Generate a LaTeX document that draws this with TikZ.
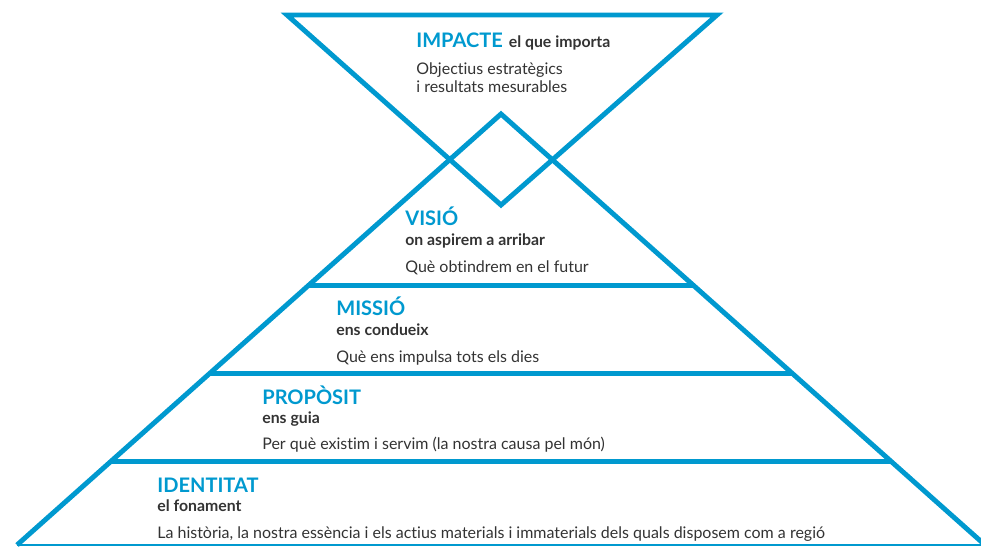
\documentclass[tikz,border=0pt]{standalone}
\usepackage{fontspec}
\setmainfont{Lato}[Ligatures={NoCommon,TeX}]
\usetikzlibrary{calc}
\definecolor{pyrblue}{HTML}{0099CF}
\definecolor{pyrtext}{HTML}{333333}
\tikzset{
  edge/.style={draw=pyrblue,line width=2.8pt},
  head/.style={anchor=base west,inner sep=0pt,text=pyrblue,font=\fontsize{11.4}{13}\selectfont\bfseries},
  sub/.style={anchor=base west,inner sep=0pt,text=pyrtext,font=\fontsize{9}{11}\selectfont\bfseries},
  body/.style={anchor=base west,inner sep=0pt,text=pyrtext,font=\fontsize{9.1}{11}\selectfont}
}
\begin{document}
\begin{tikzpicture}[x=0.02cm,y=-0.02cm]
        \useasboundingbox (0,0) rectangle (981,547);
        % inverted triangle
        \coordinate (tl) at (287,15);
        \coordinate (tr) at (717,15);
        \coordinate (tv) at (501,205);
        \draw[edge] (tl) -- (tr) -- (tv) -- cycle;
        % pyramid
        \coordinate (apex) at (501,114);
        \coordinate (bl) at (17,545);
        \coordinate (br) at (985,545);
        \draw[edge] (bl) -- (apex) -- (br);
        \draw[draw=pyrblue,line width=1.2pt] (bl) -- (br);
        \foreach \t/\n in {0.398/a,0.6019/b,0.8056/c}{
          \draw[edge] ($(apex)!\t!(bl)$) -- ($(apex)!\t!(br)$);
        }

        \node[head] (impacte) at (416,48) {IMPACTE};
        \node[sub] (impsub) at ([xshift=3pt]impacte.base east) {el que importa};
        \node[body] (impl1) at (416,75) {Objectius estratègics};
        \node[body] (impl2) at (416,93) {i resultats mesurables};

        \node[head] (visio) at (405,226) {VISIÓ};
        \node[sub] (visub) at (405,246) {on aspirem a arribar};
        \node[body] (vil1) at (405,273) {Què obtindrem en el futur};

        \node[head] (missio) at (336,316) {MISSIÓ};
        \node[sub] (misub) at (336,336) {ens condueix};
        \node[body] (mil1) at (336,362) {Què ens impulsa tots els dies};

        \node[head] (proposit) at (262,404) {PROPÒSIT};
        \node[sub] (prsub) at (262,423) {ens guia};
        \node[body] (prl1) at (262,449) {Per què existim i servim (la nostra causa pel món)};

        \node[head] (identitat) at (157,492) {IDENTITAT};
        \node[sub] (idsub) at (157,511) {el fonament};
        \node[body] (idl1) at (157,538) {La història, la nostra essència i els actius materials i immaterials dels quals disposem com a regió};
\end{tikzpicture}
\end{document}
